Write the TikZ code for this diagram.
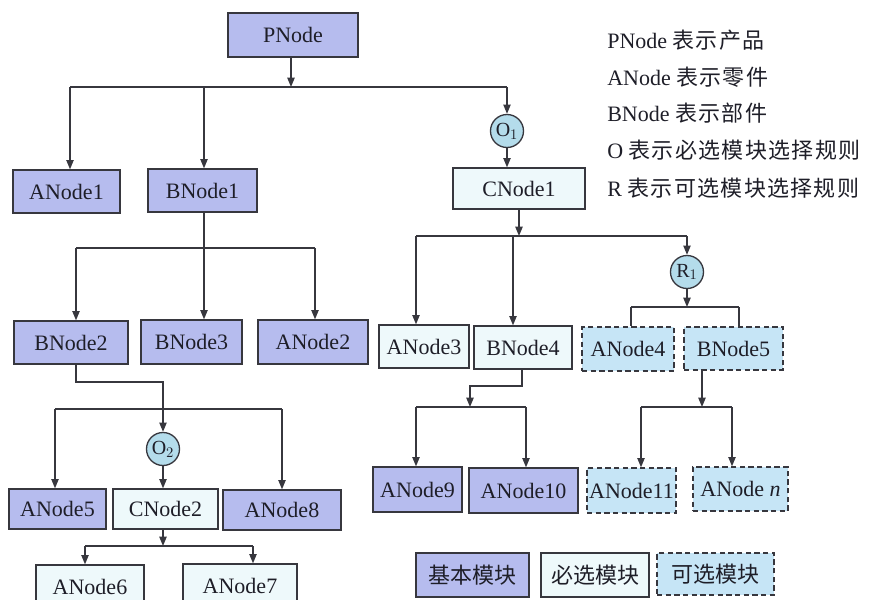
\documentclass[tikz,border=0pt]{standalone}
\usepackage{fontspec}
\setmainfont{Liberation Serif}
\newfontfamily\cjk{Noto Sans CJK SC}
\newfontfamily\cjkwide{Noto Sans CJK SC}[LetterSpace=6]
\usetikzlibrary{arrows.meta}
\definecolor{basicfill}{RGB}{182,188,238}
\definecolor{reqfill}{RGB}{238,249,251}
\definecolor{optfill}{RGB}{198,229,246}
\definecolor{rulefill}{RGB}{180,220,235}
\definecolor{edge}{RGB}{55,55,62}
\definecolor{ink}{RGB}{30,30,40}
\begin{document}
\begin{tikzpicture}[x=0.75pt,y=-0.75pt,
  font=\fontsize{16.5}{19}\selectfont,
  mod/.style 2 args={draw=edge, line width=1pt, minimum width=#1*0.75pt, minimum height=#2*0.75pt, inner sep=0pt, text=ink},
  basic/.style 2 args={mod={#1}{#2}, fill=basicfill},
  req/.style 2 args={mod={#1}{#2}, fill=reqfill},
  opt/.style 2 args={mod={#1}{#2}, fill=optfill, dash pattern=on 4pt off 2.5pt},
  rule/.style={circle, draw=edge, line width=1pt, fill=rulefill, minimum size=33*0.75pt, inner sep=0pt, text=ink, font=\fontsize{15}{17}\selectfont},
  link/.style={draw=edge, line width=1pt},
  arr/.style={link, -{Triangle[length=7pt,width=5.5pt]}},
  legendtext/.style={anchor=west, inner sep=0pt, text=ink}
]
\useasboundingbox (0,0) rectangle (869,600);

% ---- nodes ----
\node[basic={130}{44}] (p) at (293,35) {PNode};
\node[basic={107}{43}] (a1) at (66.5,191.5) {ANode1};
\node[basic={109}{43}] (b1) at (202.5,190.5) {BNode1};
\node[rule] (o1) at (507,131) {O$_1$};
\node[req={132}{41}] (c1) at (519,188.5) {CNode1};

\node[basic={114}{43}] (b2) at (71,342.5) {BNode2};
\node[basic={101}{44}] (b3) at (191.5,342) {BNode3};
\node[basic={110}{44}] (a2) at (313,342) {ANode2};

\node[rule] (o2) at (163,449) {O$_2$};
\node[basic={97}{40}] (a5) at (57.5,509) {ANode5};
\node[req={105}{40}] (c2) at (165.5,509) {CNode2};
\node[basic={118}{40}] (a8) at (282,510) {ANode8};
\node[req={108}{44}] (a6) at (90,587) {ANode6};
\node[req={114}{44}] (a7) at (240,586) {ANode7};

\node[req={90}{43}] (a3) at (424,346.5) {ANode3};
\node[req={98}{43}] (b4) at (523,347.5) {BNode4};
\node[rule] (r1) at (687,272) {R$_1$};
\node[opt={92}{44}] (a4) at (628,349) {ANode4};
\node[opt={99}{43}] (b5) at (733.5,348.5) {BNode5};

\node[basic={89}{45}] (a9) at (417.5,489.5) {ANode9};
\node[basic={109}{45}] (a10) at (523.5,490.5) {ANode10};
\node[opt={89}{45}] (a11) at (631.5,490.5) {ANode11};
\node[opt={95}{44}] (an) at (740.5,489) {ANode \textit{n}};

% legend
\node[legendtext] (l1) at (607,40) {PNode {\cjkwide 表示产品}};
\node[legendtext] (l2) at (607,77) {ANode {\cjkwide 表示零件}};
\node[legendtext] (l3) at (607,113) {BNode {\cjkwide 表示部件}};
\node[legendtext] (l4) at (607,150) {O {\cjkwide 表示必选模块选择规则}};
\node[legendtext] (l5) at (607,188) {R {\cjkwide 表示可选模块选择规则}};
\node[basic={113}{44}] (k1) at (472.5,575) {\cjk 基本模块};
\node[req={108}{44}] (k2) at (595,575) {\cjk 必选模块};
\node[opt={117}{42}] (k3) at (715.5,574) {\cjk 可选模块};

% ---- connectors ----
% PNode level
\coordinate (pb) at (291,87);
\coordinate (pbl) at (70,87);
\coordinate (pbm) at (204,87);
\coordinate (pbr) at (507,87);
\draw[arr] (p.south -| pb) -- (pb);
\draw[link] (pbl) -- (pbr);
\draw[arr] (pbl) -- (pbl |- a1.north);
\draw[arr] (pbm) -- (pbm |- b1.north);
\draw[arr] (pbr) -- (o1.north);
\draw[arr] (o1.south) -- (o1.south |- c1.north);

% BNode1 level
\coordinate (qb) at (204,248);
\coordinate (qbl) at (76,248);
\coordinate (qbr) at (315,248);
\draw[arr] (b1.south -| qb) -- (qb |- b3.north);
\draw[link] (qbl) -- (qbr);
\draw[arr] (qbl) -- (qbl |- b2.north);
\draw[arr] (qbr) -- (qbr |- a2.north);

% BNode2 level
\coordinate (s1) at (76,382);
\coordinate (s2) at (163,382);
\coordinate (sbl) at (55,409);
\coordinate (sbr) at (282,409);
\draw[arr] (b2.south -| s1) -- (s1) -- (s2) -- (o2.north);
\draw[link] (sbl) -- (sbr);
\draw[arr] (sbl) -- (sbl |- a5.north);
\draw[arr] (sbr) -- (sbr |- a8.north);
\draw[arr] (o2.south) -- (o2.south |- c2.north);

% CNode2 level
\coordinate (tb) at (163,546);
\coordinate (tbl) at (85,546);
\coordinate (tbr) at (253,546);
\draw[arr] (c2.south -| tb) -- (tb);
\draw[link] (tbl) -- (tbr);
\draw[arr] (tbl) -- (tbl |- a6.north);
\draw[arr] (tbr) -- (tbr |- a7.north);

% CNode1 level
\coordinate (ub) at (519,236);
\coordinate (ubl) at (416,236);
\coordinate (ubm) at (513,236);
\coordinate (ubr) at (687,236);
\draw[arr] (c1.south) -- (ub);
\draw[link] (ubl) -- (ubr);
\draw[arr] (ubl) -- (ubl |- a3.north);
\draw[arr] (ubm) -- (ubm |- b4.north);
\draw[arr] (ubr) -- (r1.north);

% R1 level
\coordinate (vb) at (687,307);
\coordinate (vbl) at (631,307);
\coordinate (vbr) at (739,307);
\draw[arr] (r1.south) -- (vb);
\draw[link] (vbl) -- (vbr);
\draw[link] (vbl) -- (vbl |- a4.north);
\draw[link] (vbr) -- (vbr |- b5.north);

% BNode4 level
\coordinate (w1) at (522,386);
\coordinate (w2) at (470,386);
\coordinate (wb) at (470,407);
\coordinate (wbl) at (416,407);
\coordinate (wbr) at (526,407);
\draw[arr] (b4.south -| w1) -- (w1) -- (w2) -- (wb);
\draw[link] (wbl) -- (wbr);
\draw[arr] (wbl) -- (wbl |- a9.north);
\draw[arr] (wbr) -- (wbr |- a10.north);

% BNode5 level
\coordinate (xb) at (702,407);
\coordinate (xbl) at (641,407);
\coordinate (xbr) at (732,407);
\draw[arr] (b5.south -| xb) -- (xb);
\draw[link] (xbl) -- (xbr);
\draw[arr] (xbl) -- (xbl |- a11.north);
\draw[arr] (xbr) -- (xbr |- an.north);
\end{tikzpicture}
\end{document}
